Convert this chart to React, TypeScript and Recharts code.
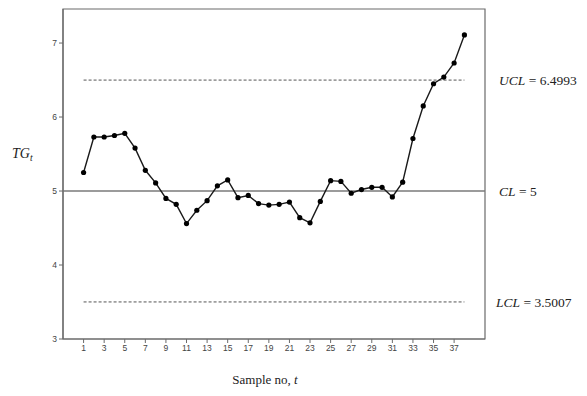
import { LineChart, Line, XAxis, YAxis, ReferenceLine, ReferenceArea } from "recharts";

const SAMPLE_NO = [1, 2, 3, 4, 5, 6, 7, 8, 9, 10, 11, 12, 13, 14, 15, 16, 17, 18, 19, 20, 21, 22, 23, 24, 25, 26, 27, 28, 29, 30, 31, 32, 33, 34, 35, 36, 37, 38];
const TG_VALUES = [
  5.25, 5.73, 5.73, 5.75, 5.78, 5.58, 5.28, 5.11, 4.9, 4.82,
  4.56, 4.74, 4.87, 5.07, 5.15, 4.91, 4.94, 4.83, 4.81, 4.82,
  4.85, 4.64, 4.57, 4.86, 5.14, 5.13, 4.97, 5.02, 5.05, 5.05,
  4.92, 5.12, 5.71, 6.15, 6.45, 6.54, 6.73, 7.11,
];
const X_TICKS = [1, 3, 5, 7, 9, 11, 13, 15, 17, 19, 21, 23, 25, 27, 29, 31, 33, 35, 37];
const Y_TICKS = [3, 4, 5, 6, 7];
const UCL = 6.4993;
const CL = 5;
const LCL = 3.5007;

const X_MIN = -1;
const X_MAX = 40;
const Y_MIN = 3;
const Y_MAX = 7.46;

const data = SAMPLE_NO.map((t, i) => ({ t, tg: TG_VALUES[i] }));

const serif = "'Liberation Serif', 'Times New Roman', serif";
const sans = "'Liberation Sans', Arial, sans-serif";
const frameColor = "#6b6b6b";

// label text to the right of the plot, e.g. "UCL = 6.4993"
function limitLabel(name: string, value: string, dx: number) {
  return (props: any) => {
    const vb = props.viewBox || {};
    const x = vb.x + vb.width + dx;
    return (
      <text x={x} y={vb.y + 5} fontFamily={serif} fontSize={13.5} fill="#222">
        <tspan fontStyle="italic">{name}</tspan>
        <tspan>{` = ${value}`}</tspan>
      </text>
    );
  };
}

export default function App() {
  return (
    <LineChart
      width={579}
      height={388}
      data={data}
      margin={{ top: 1, right: 102, bottom: 27, left: 25 }}
    >
      <XAxis
        dataKey="t"
        type="number"
        domain={[X_MIN, X_MAX]}
        ticks={X_TICKS}
        allowDataOverflow
        height={30}
        tickSize={4}
        tickLine={{ stroke: frameColor }}
        axisLine={{ stroke: frameColor, strokeWidth: 1.2 }}
        tick={{ fontFamily: sans, fontSize: 8.5, fill: "#444" }}
        label={{
          content: (props: any) => {
            const vb = props.viewBox || {};
            return (
              <text x={vb.x + vb.width / 2 - 9} y={vb.y + 45} textAnchor="middle" fontFamily={serif} fontSize={13} fill="#222">
                Sample no, <tspan fontStyle="italic">t</tspan>
              </text>
            );
          },
        }}
      />
      <YAxis
        type="number"
        domain={[Y_MIN, Y_MAX]}
        ticks={Y_TICKS}
        allowDataOverflow
        width={30}
        tickSize={4}
        tickLine={{ stroke: frameColor }}
        axisLine={{ stroke: frameColor, strokeWidth: 1.2 }}
        tick={{ fontFamily: sans, fontSize: 8.5, fill: "#444" }}
        label={{
          content: (props: any) => {
            const vb = props.viewBox || {};
            return (
              <text x={vb.x - 21} y={150} fontFamily={serif} fontSize={14} fill="#222" fontStyle="italic">
                TG<tspan fontSize={9.5} dy={3}>t</tspan>
              </text>
            );
          },
        }}
      />
      <ReferenceArea x1={X_MIN} x2={X_MAX} y1={Y_MIN} y2={Y_MAX} fill="none" stroke={frameColor} strokeWidth={1.2} />
      <ReferenceLine
        segment={[{ x: 1, y: UCL }, { x: 38, y: UCL }]}
        stroke="#555"
        strokeDasharray="3 2"
        strokeWidth={1}
      />
      <ReferenceLine
        segment={[{ x: 1, y: LCL }, { x: 38, y: LCL }]}
        stroke="#555"
        strokeDasharray="3 2"
        strokeWidth={1}
      />
      <ReferenceLine y={CL} stroke="#7a7a7a" strokeWidth={1.5} label={{ content: limitLabel("CL", "5", 14) }} />
      <ReferenceLine y={UCL} strokeOpacity={0} label={{ content: limitLabel("UCL", "6.4993", 14) }} />
      <ReferenceLine y={LCL} strokeOpacity={0} label={{ content: limitLabel("LCL", "3.5007", 11) }} />
      <Line
        dataKey="tg"
        stroke="#1a1a1a"
        strokeWidth={1.4}
        dot={{ r: 2.6, fill: "#000", stroke: "#000", strokeWidth: 0 }}
        isAnimationActive={false}
      />
    </LineChart>
  );
}
